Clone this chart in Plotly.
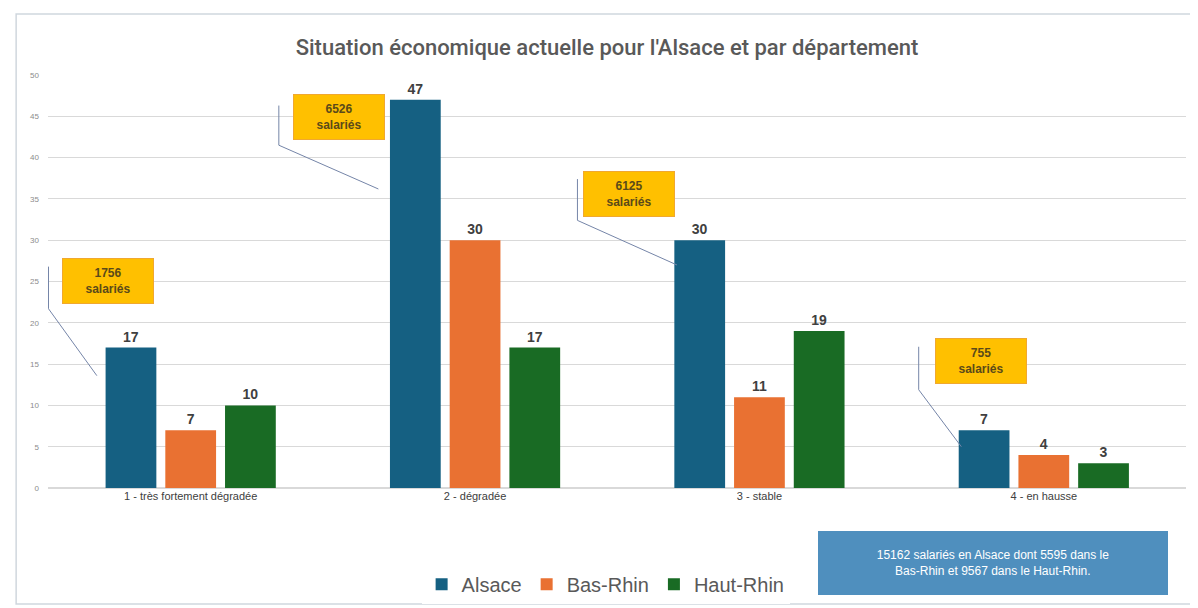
import plotly.graph_objects as go

# ----------------------
# Data
# ----------------------
categories = [
    "1 - très fortement dégradée",
    "2 - dégradée",
    "3 - stable",
    "4 - en hausse",
]
alsace = [17, 47, 30, 7]
bas_rhin = [7, 30, 11, 4]
haut_rhin = [10, 17, 19, 3]
salaries = [1756, 6526, 6125, 755]
y_ticks = [0, 5, 10, 15, 20, 25, 30, 35, 40, 45, 50]

series = [
    ("Alsace", alsace, "#156082"),
    ("Bas-Rhin", bas_rhin, "#E97132"),
    ("Haut-Rhin", haut_rhin, "#196B24"),
]

fig = go.Figure()
for name, values, color in series:
    fig.add_trace(
        go.Bar(
            x=categories,
            y=values,
            name=name,
            marker=dict(color=color, line=dict(width=0)),
            text=values,
            textposition="outside",
            cliponaxis=False,
            textfont=dict(size=14, color="#404040", family="Liberation Sans", weight="bold"),
        )
    )

# Callout boxes "xxxx salariés" with their leader lines (category index offsets)
box_pos = [(-0.29, 25.1), (0.52, 44.9), (1.54, 35.6), (2.78, 15.4)]
leaders = [
    [(-0.5, 26.8), (-0.5, 21.7), (-0.33, 13.6)],
    [(0.31, 46.3), (0.31, 41.5), (0.66, 36.2)],
    [(1.36, 37.4), (1.36, 32.4), (1.71, 27.0)],
    [(2.56, 17.1), (2.56, 11.9), (2.71, 5.0)],
]
for n, (bx, by), pts in zip(salaries, box_pos, leaders):
    fig.add_annotation(
        x=bx, y=by, xref="x", yref="y",
        xanchor="center", yanchor="middle",
        text=f"{n}<br>salariés",
        showarrow=False,
        font=dict(size=12, color="#5a4a1a", family="Liberation Sans", weight="bold"),
        bgcolor="#FFC000",
        bordercolor="#F0A830",
        borderwidth=1,
        width=88, height=42,
    )
    path = "M {} {} L {} {} L {} {}".format(*[c for p in pts for c in p])
    fig.add_shape(type="path", path=path, xref="x", yref="y",
                  line=dict(color="#7585a8", width=1))

# Summary box bottom right
fig.add_annotation(
    x=0.83, y=-0.181, xref="paper", yref="paper",
    xanchor="center", yanchor="middle",
    text="15162 salariés en Alsace dont 5595 dans le<br>Bas-Rhin et 9567 dans le Haut-Rhin.",
    showarrow=False,
    font=dict(size=12, color="white", family="Liberation Sans"),
    bgcolor="#4F8FBE",
    bordercolor="#4F8FBE",
    width=346, height=60,
)

# Outer frame
fig.add_shape(type="rect", xref="paper", yref="paper",
              x0=-0.028, x1=1.012, y0=-0.281, y1=1.148,
              line=dict(color="#d0d7de", width=1.5), layer="below")

fig.update_layout(
    width=1198,
    height=608,
    paper_bgcolor="white",
    plot_bgcolor="white",
    margin=dict(l=40, r=20, t=67, b=121),
    barmode="group",
    bargap=0.37,
    bargroupgap=0.15,
    title=dict(
        text="Situation économique actuelle pour l'Alsace et par département",
        x=0.5, xanchor="center", y=0.935, yanchor="middle",
        font=dict(size=22, color="#595959", family="Roboto", weight=500),
    ),
    xaxis=dict(
        tickfont=dict(size=11, color="#404040", family="Liberation Sans"),
        showgrid=False,
        showline=False,
        ticks="",
    ),
    yaxis=dict(
        range=[0, 50],
        tickvals=y_ticks,
        tickfont=dict(size=8, color="#8c8c8c", family="Liberation Sans"),
        showgrid=True,
        gridcolor="#d9d9d9",
        gridwidth=1,
        zeroline=True,
        zerolinecolor="#d9d9d9",
        ticklabelstandoff=8,
    ),
    legend=dict(
        orientation="h",
        x=0.49, y=-0.233, xanchor="center", yanchor="middle",
        font=dict(size=20, color="#595959", family="Liberation Sans"),
        itemwidth=30,
        traceorder="normal",
    ),
    showlegend=True,
)

fig.write_html("out.html")
